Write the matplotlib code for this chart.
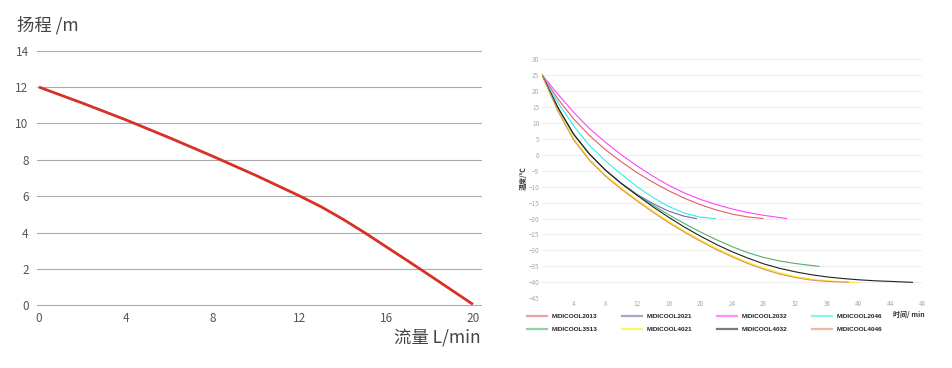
import matplotlib.pyplot as plt
import numpy as np

plt.rcParams['font.family'] = ['Noto Sans CJK SC', 'DejaVu Sans']

# 左图: 扬程-流量曲线
flow = [0, 2, 4, 6, 8, 10, 12, 13, 14, 15, 16, 17, 18, 19, 20]
head = [12, 11.12, 10.2, 9.22, 8.2, 7.14, 6.02, 5.42, 4.74, 4.0, 3.22, 2.44, 1.65, 0.85, 0.05]

# 右图: 降温曲线 (时间 min, 温度 ℃)
models = ['MIDICOOL2013', 'MIDICOOL2021', 'MIDICOOL2032', 'MIDICOOL2046',
          'MIDICOOL3513', 'MIDICOOL4021', 'MIDICOOL4032', 'MIDICOOL4046']
t_2013 = [0, 2, 4, 6, 8, 10, 12, 14, 16, 18, 20, 22, 24, 26, 27.9]
T_2013 = [25, 17.5, 11.2, 6.0, 1.6, -2.2, -5.6, -8.6, -11.3, -13.65, -15.65, -17.3, -18.6, -19.5, -20]
t_2021 = [0, 2, 4, 6, 8, 10, 12, 14, 16, 18, 19.5]
T_2021 = [25, 14.8, 6.4, 0.2, -4.8, -8.9, -12.4, -15.3, -17.7, -19.3, -20]
t_2032 = [0, 2, 4, 6, 8, 10, 12, 14, 16, 18, 20, 22, 24, 26, 28, 30.9]
T_2032 = [25, 19.0, 13.3, 8.2, 3.9, 0.0, -3.5, -6.7, -9.6, -12.0, -14.0, -15.6, -17.0, -18.1, -19.0, -20]
t_2046 = [0, 2, 4, 6, 8, 10, 12, 14, 16, 18, 20, 21.9]
T_2046 = [25, 16.4, 9.0, 2.9, -1.9, -6.1, -10.0, -13.4, -16.2, -18.3, -19.6, -20]
t_3513 = [0, 2, 4, 6, 8, 10, 12, 14, 16, 18, 20, 22, 24, 26, 28, 30, 32, 34, 35]
T_3513 = [25, 14.8, 6.4, 0.2, -4.8, -9.0, -12.6, -15.8, -18.8, -21.6, -24.2, -26.6, -28.8,
          -30.7, -32.2, -33.3, -34.1, -34.7, -35]
t_4021 = [0, 2, 4, 6, 8, 10, 12, 14, 16, 18, 20, 22, 24, 26, 28, 30, 32, 34, 36, 38, 39.8]
T_4021 = [25, 14.0, 5.0, -1.4, -6.3, -10.4, -14.1, -17.6, -20.9, -23.9, -26.7, -29.3, -31.6,
          -33.7, -35.5, -37.0, -38.2, -39.0, -39.5, -39.8, -40]
t_4032 = [0, 2, 4, 6, 8, 10, 12, 14, 16, 18, 20, 22, 24, 26, 28, 30, 32, 34, 36, 38, 40, 42, 44, 46.8]
T_4032 = [25, 14.8, 6.4, 0.2, -4.8, -9.0, -12.7, -16.3, -19.6, -22.7, -25.5, -28.1, -30.4, -32.4,
          -34.2, -35.6, -36.7, -37.6, -38.3, -38.8, -39.2, -39.5, -39.7, -40]
t_4046 = [0, 2, 4, 6, 8, 10, 12, 14, 16, 18, 20, 22, 24, 26, 28, 30, 32, 34, 36, 38.7]
T_4046 = [25, 13.7, 4.6, -1.8, -6.7, -10.8, -14.5, -18.0, -21.3, -24.3, -27.1, -29.7, -32.0,
          -34.1, -35.9, -37.4, -38.5, -39.3, -39.7, -40]
colors = ['#e06060', '#6c6cb0', '#ff44ff', '#33eeee',
          '#50b070', '#ffee00', '#222222', '#e09060']

fig = plt.figure(figsize=(9.52, 3.68), dpi=100)
W, H = 952, 368

# ---- 左图 ----
ax1 = fig.add_axes([37 / W, (H - 305.3) / H, (481 - 37) / W, (305.3 - 50.7) / H])
ax1.plot(flow, head, color='#d93025', lw=2.0, solid_capstyle='butt', solid_joinstyle='round')
ax1.set_xlim(-0.09, 20.37)
ax1.set_ylim(0, 14)
ax1.set_xticks([0, 4, 8, 12, 16, 20])
ax1.set_yticks(range(0, 15, 2))
for y in range(0, 15, 2):
    ax1.axhline(y, color='#aaaaaa', lw=0.8, zorder=0, clip_on=False)
for s in ax1.spines.values():
    s.set_visible(False)
ax1.tick_params(length=0, labelsize=8.5, labelcolor='#555555', pad=6)
ax1.tick_params(axis='x', pad=5)
fig.text(17 / W, 1 - 25 / H, '扬程 /m', fontsize=12.5, color='#444444', va='center', ha='left')
fig.text(481 / W, 1 - 338 / H, '流量 L/min', fontsize=12.5, color='#444444', va='center', ha='right')

# ---- 右图 ----
ax2 = fig.add_axes([542 / W, (H - 298.3) / H, (922 - 542) / W, (298.3 - 59) / H])
series = [(t_2013, T_2013), (t_2021, T_2021), (t_2032, T_2032), (t_2046, T_2046),
          (t_3513, T_3513), (t_4021, T_4021), (t_4032, T_4032), (t_4046, T_4046)]
handles = []
for (tt, TT), name, c in zip(series, models, colors):
    ln, = ax2.plot(tt, TT, color=c, lw=0.8, label=name, solid_joinstyle='round')
    handles.append(ln)
ax2.set_xlim(0, 48)
ax2.set_ylim(-45, 30)
ax2.set_xticks(range(4, 49, 4))
ax2.set_yticks(range(-45, 31, 5))
ax2.grid(axis='y', color='#eeeeee', lw=0.8)
ax2.set_axisbelow(True)
for s in ax2.spines.values():
    s.set_visible(False)
ax2.tick_params(length=0, labelsize=4.6, labelcolor='#aaaaaa', pad=2)
ax2.tick_params(axis='x', pad=1.5)
fig.text(523 / W, 1 - 178 / H, '温度/℃', fontsize=5, color='#333333', rotation=90,
         va='center', ha='center', fontweight='bold')
fig.text(893 / W, 1 - 314 / H, '时间/ min', fontsize=5, color='#333333',
         va='center', ha='left', fontweight='bold')

# 图例按行排列: 列优先填充, 所以交错顺序
order = [0, 4, 1, 5, 2, 6, 3, 7]
leg = ax2.legend([handles[i] for i in order], [models[i] for i in order],
                 loc='upper left', bbox_to_anchor=(527 / W, 1 - 314 / H),
                 bbox_transform=fig.transFigure, ncol=4, frameon=False,
                 borderpad=0, borderaxespad=0, handlelength=3.1, handletextpad=0.8,
                 columnspacing=3.8, labelspacing=1.15,
                 prop={'family': 'Liberation Sans', 'size': 4.6, 'weight': 'bold'})
for line in leg.get_lines():
    line.set_linewidth(1.6)
    line.set_alpha(0.6)
for txt in leg.get_texts():
    txt.set_color('#222222')

fig.savefig('out.png', dpi=100)
